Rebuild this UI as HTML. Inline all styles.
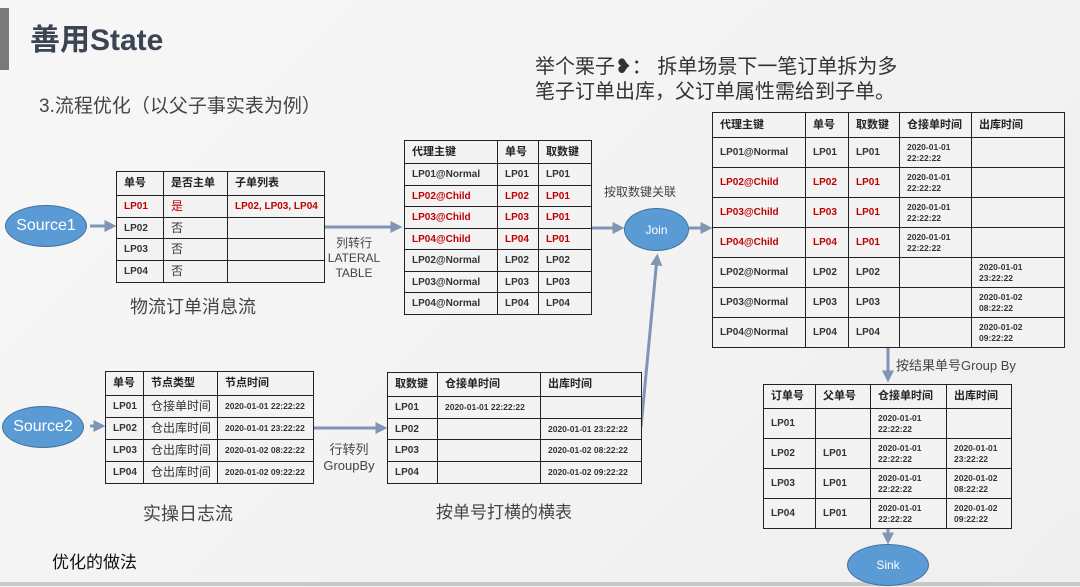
<!DOCTYPE html>
<html><head><meta charset="utf-8"><style>
body{margin:0;width:1080px;height:587px;overflow:hidden;background:linear-gradient(135deg,#f7f7f7,#efeff0);font-family:"Liberation Sans","Noto Sans CJK SC",sans-serif;position:relative;color:#333}
.a{position:absolute}
table{position:absolute;border-collapse:collapse;table-layout:fixed;background:#f3f3f3}
td{border:1.5px solid #222;padding:0 0 0 7px;font-size:10px;font-weight:bold;color:#333;line-height:11px;overflow:hidden;white-space:nowrap}
td.n{font-weight:normal;font-size:12px}
td.s{font-size:8.5px}
tr.h td{font-size:11px;color:#222}
.r td{color:#c00000}
.el{position:absolute;border-radius:50%;background:#5b9bd5;border:1px solid #41719c;color:#fff;display:flex;align-items:center;justify-content:center}
.lab{position:absolute;color:#444;text-align:center}
</style></head><body>
<div class="a" style="left:0;top:8px;width:9px;height:62px;background:#7a7a7a"></div>
<div class="a" style="left:30px;top:15px;font-size:30px;font-weight:bold;color:#3a4452">善用State</div>
<div class="a" style="left:39px;top:91px;font-size:19px;color:#444">3.流程优化（以父子事实表为例）</div>
<div class="a" style="left:535px;top:55px;font-size:20px;color:#333;line-height:25px">举个栗子❥： 拆单场景下一笔订单拆为多<br>笔子订单出库，父订单属性需给到子单。</div>

<svg class="a" style="left:0;top:0" width="1080" height="587">
<defs><marker id="m" markerWidth="4" markerHeight="4" refX="2.5" refY="2" orient="auto"><path d="M0,0L4,2L0,4z" fill="#7f95b3"/></marker></defs>
<g stroke="#7f95b3" stroke-width="3" fill="none" marker-end="url(#m)">
<line x1="90" y1="226" x2="112" y2="226"/>
<line x1="324" y1="227" x2="398" y2="227"/>
<line x1="591" y1="228" x2="620" y2="228"/>
<line x1="689" y1="228" x2="708" y2="228"/>
<line x1="90" y1="426" x2="101" y2="426"/>
<line x1="313" y1="428" x2="383" y2="428"/>
<line x1="888" y1="347" x2="888" y2="378"/>
<line x1="888" y1="528" x2="888" y2="540"/>
</g>
<line x1="641" y1="427" x2="657" y2="258" stroke="#7f95b3" stroke-width="3" marker-end="url(#m)"/>
<line x1="0" y1="584" x2="1080" y2="584" stroke="#c8c8c8" stroke-width="4"/>
</svg>

<div class="el" style="left:5px;top:205px;width:80px;height:40px;font-size:16px">Source1</div>
<div class="el" style="left:2px;top:406px;width:80px;height:40px;font-size:16px">Source2</div>
<div class="el" style="left:624px;top:208px;width:63px;height:41px;font-size:12px">Join</div>
<div class="el" style="left:847px;top:544px;width:80px;height:40px;font-size:12px">Sink</div>

<div class="lab" style="left:322px;top:236px;width:64px;font-size:12px;line-height:15px">列转行<br>LATERAL<br>TABLE</div>
<div class="lab" style="left:130px;top:293px;font-size:18px">物流订单消息流</div>
<div class="lab" style="left:604px;top:183px;font-size:12px">按取数键关联</div>
<div class="lab" style="left:312px;top:442px;width:74px;font-size:13px;line-height:16px">行转列<br>GroupBy</div>
<div class="lab" style="left:143px;top:500px;font-size:18px">实操日志流</div>
<div class="lab" style="left:436px;top:498px;font-size:17px">按单号打横的横表</div>
<div class="lab" style="left:896px;top:355px;font-size:13px">按结果单号Group By</div>
<div class="a" style="left:52px;top:548px;font-size:17px;color:#111">优化的做法</div>

<table style="left:116px;top:171px;width:208px">
<colgroup><col style="width:47px"><col style="width:64px"><col style="width:97px"></colgroup>
<tr class="h" style="height:24px"><td>单号</td><td>是否主单</td><td>子单列表</td></tr>
<tr class="r" style="height:22px"><td>LP01</td><td class="n">是</td><td>LP02, LP03, LP04</td></tr>
<tr style="height:21px"><td>LP02</td><td class="n">否</td><td></td></tr>
<tr style="height:22px"><td>LP03</td><td class="n">否</td><td></td></tr>
<tr style="height:22px"><td>LP04</td><td class="n">否</td><td></td></tr>
</table>

<table style="left:404px;top:140px;width:187px">
<colgroup><col style="width:93px"><col style="width:41px"><col style="width:53px"></colgroup>
<tr class="h" style="height:23px"><td>代理主键</td><td>单号</td><td>取数键</td></tr>
<tr style="height:22px"><td>LP01@Normal</td><td>LP01</td><td>LP01</td></tr>
<tr class="r" style="height:21px"><td>LP02@Child</td><td>LP02</td><td>LP01</td></tr>
<tr class="r" style="height:22px"><td>LP03@Child</td><td>LP03</td><td>LP01</td></tr>
<tr class="r" style="height:21px"><td>LP04@Child</td><td>LP04</td><td>LP01</td></tr>
<tr style="height:22px"><td>LP02@Normal</td><td>LP02</td><td>LP02</td></tr>
<tr style="height:21px"><td>LP03@Normal</td><td>LP03</td><td>LP03</td></tr>
<tr style="height:22px"><td>LP04@Normal</td><td>LP04</td><td>LP04</td></tr>
</table>

<table style="left:712px;top:112px;width:352px">
<colgroup><col style="width:93px"><col style="width:43px"><col style="width:51px"><col style="width:72px"><col style="width:93px"></colgroup>
<tr class="h" style="height:25px"><td>代理主键</td><td>单号</td><td>取数键</td><td>仓接单时间</td><td>出库时间</td></tr>
<tr style="height:30px"><td>LP01@Normal</td><td>LP01</td><td>LP01</td><td class="s">2020-01-01<br>22:22:22</td><td></td></tr>
<tr class="r" style="height:30px"><td>LP02@Child</td><td>LP02</td><td>LP01</td><td class="s" style="color:#333">2020-01-01<br>22:22:22</td><td></td></tr>
<tr class="r" style="height:30px"><td>LP03@Child</td><td>LP03</td><td>LP01</td><td class="s" style="color:#333">2020-01-01<br>22:22:22</td><td></td></tr>
<tr class="r" style="height:30px"><td>LP04@Child</td><td>LP04</td><td>LP01</td><td class="s" style="color:#333">2020-01-01<br>22:22:22</td><td></td></tr>
<tr style="height:30px"><td>LP02@Normal</td><td>LP02</td><td>LP02</td><td></td><td class="s">2020-01-01<br>23:22:22</td></tr>
<tr style="height:30px"><td>LP03@Normal</td><td>LP03</td><td>LP03</td><td></td><td class="s">2020-01-02<br>08:22:22</td></tr>
<tr style="height:30px"><td>LP04@Normal</td><td>LP04</td><td>LP04</td><td></td><td class="s">2020-01-02<br>09:22:22</td></tr>
</table>

<table style="left:105px;top:371px;width:208px">
<colgroup><col style="width:38px"><col style="width:74px"><col style="width:96px"></colgroup>
<tr class="h" style="height:24px"><td>单号</td><td>节点类型</td><td>节点时间</td></tr>
<tr style="height:22px"><td>LP01</td><td class="n">仓接单时间</td><td class="s">2020-01-01 22:22:22</td></tr>
<tr style="height:22px"><td>LP02</td><td class="n">仓出库时间</td><td class="s">2020-01-01 23:22:22</td></tr>
<tr style="height:22px"><td>LP03</td><td class="n">仓出库时间</td><td class="s">2020-01-02 08:22:22</td></tr>
<tr style="height:22px"><td>LP04</td><td class="n">仓出库时间</td><td class="s">2020-01-02 09:22:22</td></tr>
</table>

<table style="left:387px;top:372px;width:254px">
<colgroup><col style="width:50px"><col style="width:103px"><col style="width:101px"></colgroup>
<tr class="h" style="height:24px"><td>取数键</td><td>仓接单时间</td><td>出库时间</td></tr>
<tr style="height:22px"><td>LP01</td><td class="s">2020-01-01 22:22:22</td><td></td></tr>
<tr style="height:21px"><td>LP02</td><td></td><td class="s">2020-01-01 23:22:22</td></tr>
<tr style="height:22px"><td>LP03</td><td></td><td class="s">2020-01-02 08:22:22</td></tr>
<tr style="height:22px"><td>LP04</td><td></td><td class="s">2020-01-02 09:22:22</td></tr>
</table>

<table style="left:763px;top:384px;width:248px">
<colgroup><col style="width:52px"><col style="width:55px"><col style="width:76px"><col style="width:65px"></colgroup>
<tr class="h" style="height:24px"><td>订单号</td><td>父单号</td><td>仓接单时间</td><td>出库时间</td></tr>
<tr style="height:30px"><td>LP01</td><td></td><td class="s">2020-01-01<br>22:22:22</td><td></td></tr>
<tr style="height:30px"><td>LP02</td><td>LP01</td><td class="s">2020-01-01<br>22:22:22</td><td class="s">2020-01-01<br>23:22:22</td></tr>
<tr style="height:30px"><td>LP03</td><td>LP01</td><td class="s">2020-01-01<br>22:22:22</td><td class="s">2020-01-02<br>08:22:22</td></tr>
<tr style="height:30px"><td>LP04</td><td>LP01</td><td class="s">2020-01-01<br>22:22:22</td><td class="s">2020-01-02<br>09:22:22</td></tr>
</table>
</body></html>
